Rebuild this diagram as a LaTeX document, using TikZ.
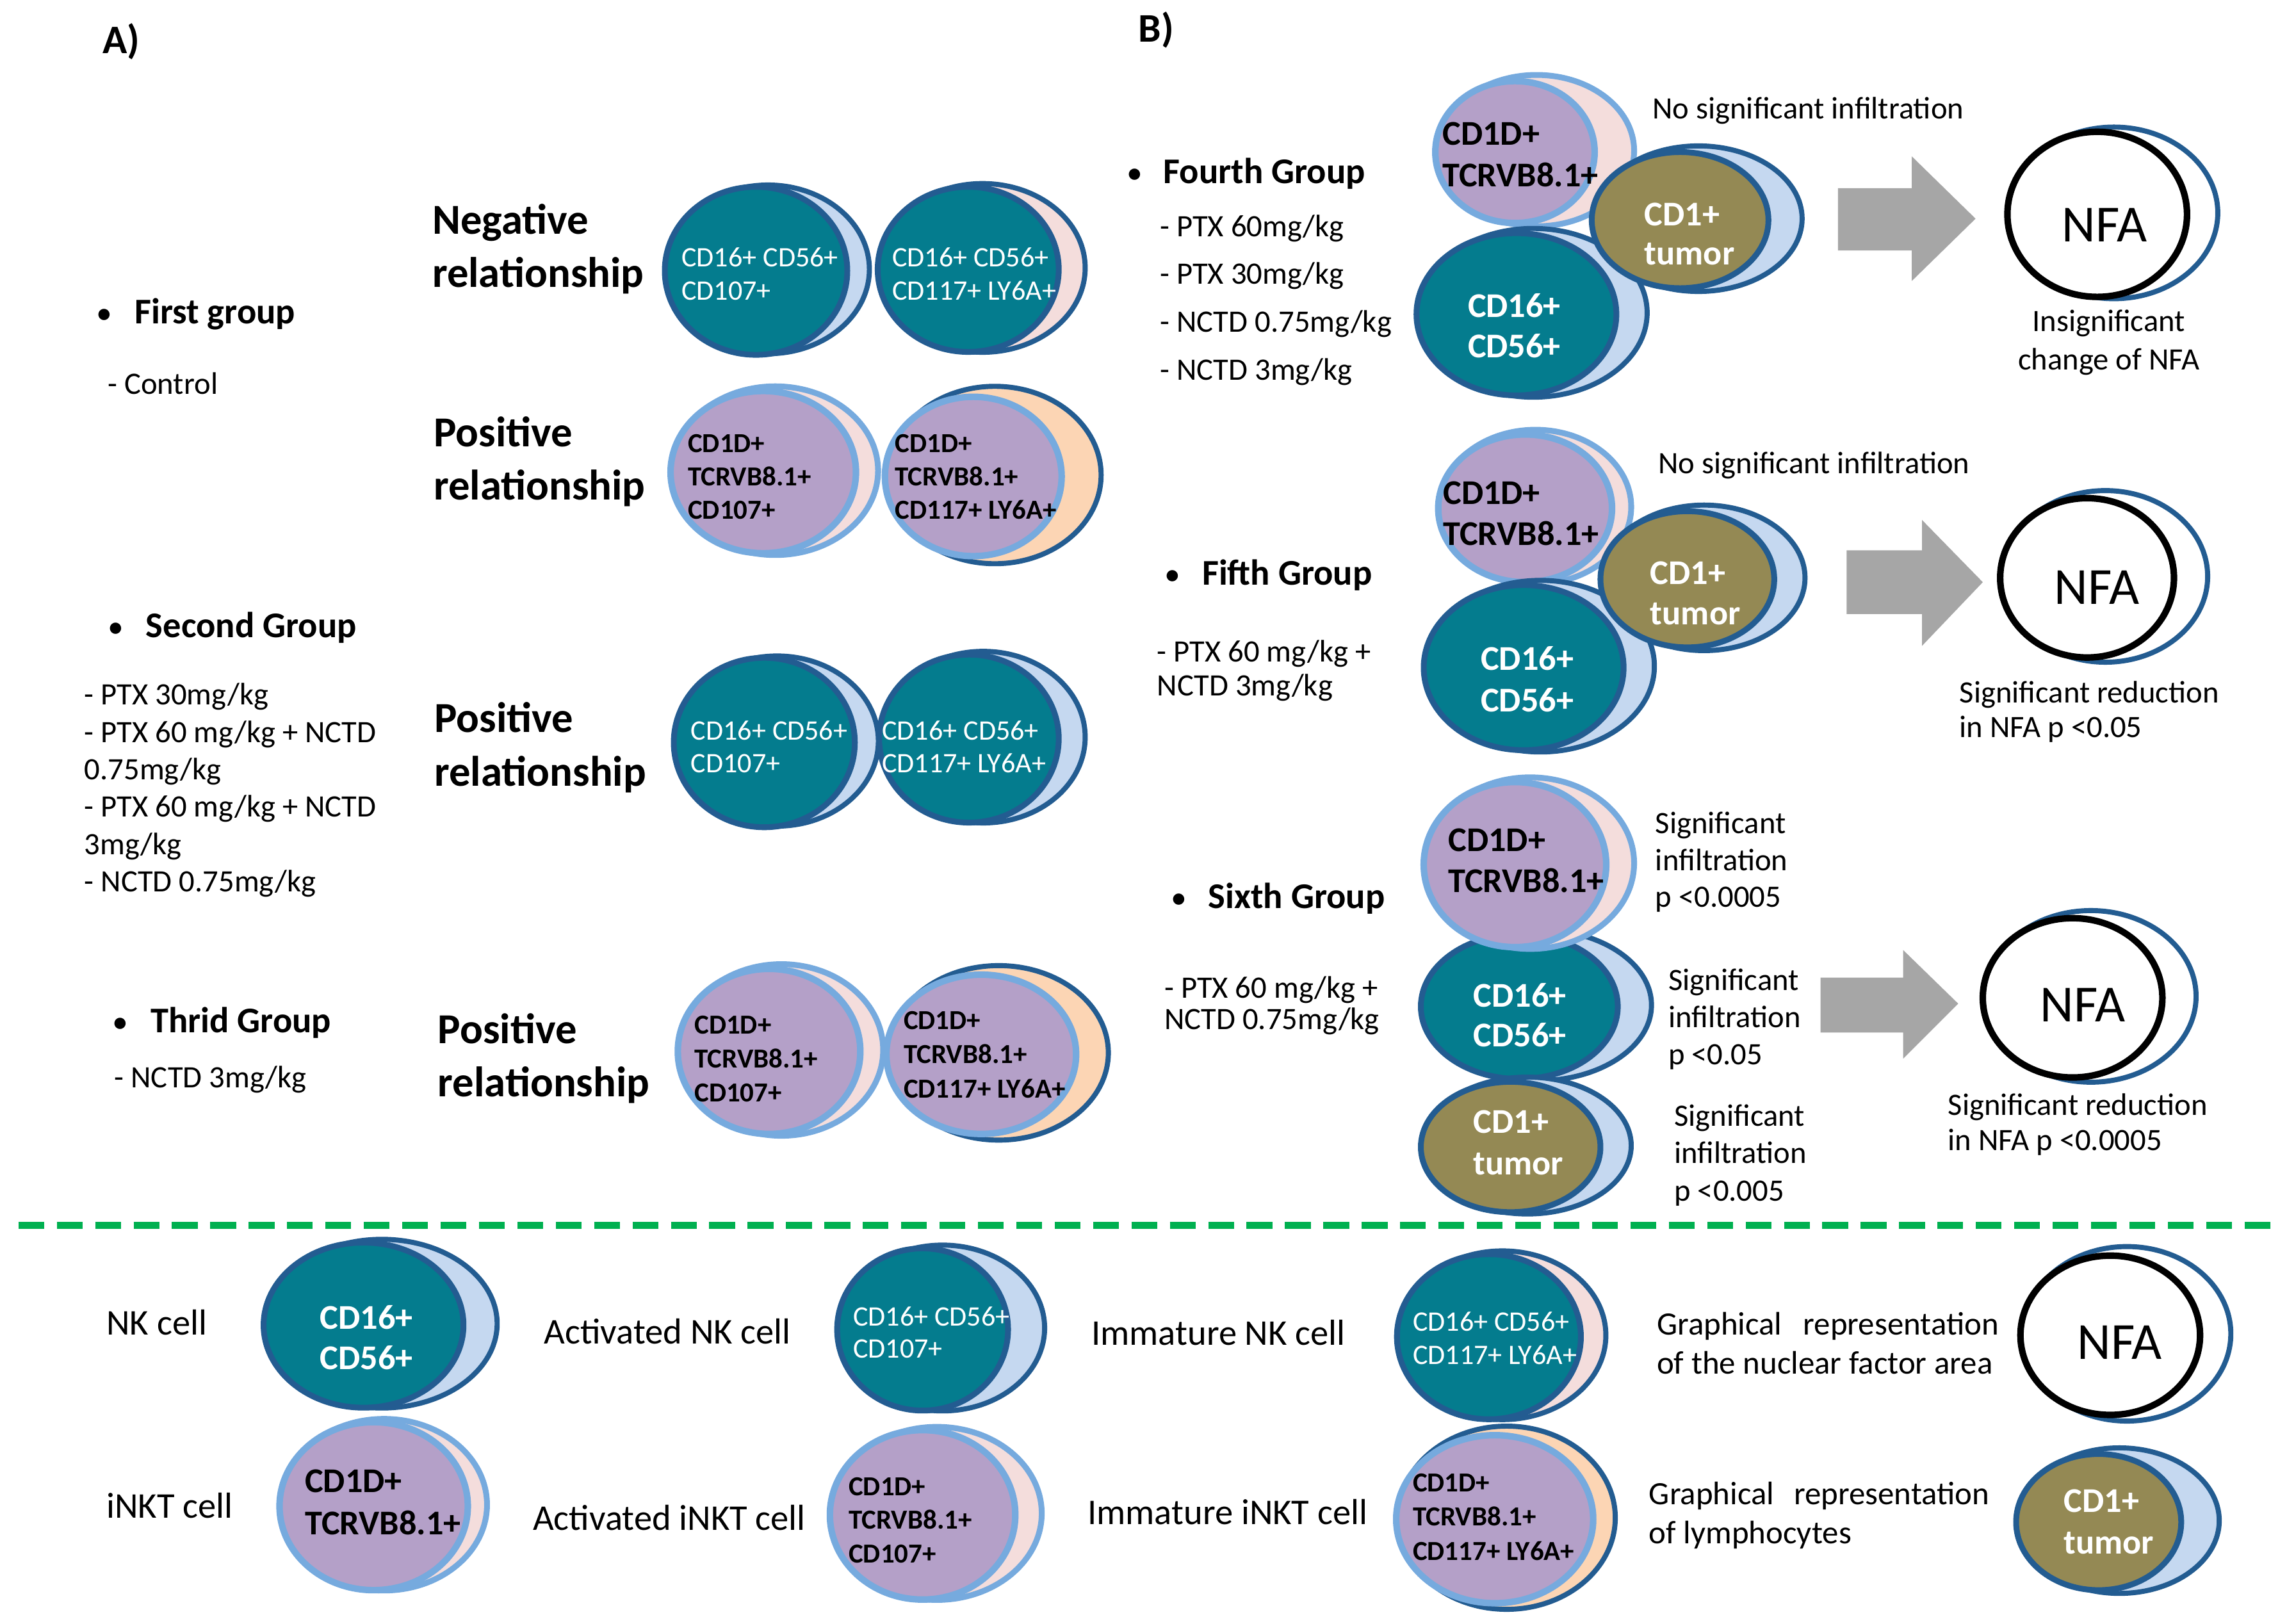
\documentclass[tikz,border=0pt]{standalone}
\usepackage{fontspec}
\setmainfont{Carlito}
\usetikzlibrary{shapes.geometric}
\definecolor{cteal}{RGB}{4,124,142}
\definecolor{cdblue}{RGB}{35,92,145}
\definecolor{cring}{RGB}{118,170,222}
\definecolor{cpurple}{RGB}{180,160,200}
\definecolor{clblue}{RGB}{197,216,240}
\definecolor{cpink}{RGB}{244,221,220}
\definecolor{cpeach}{RGB}{252,213,180}
\definecolor{colive}{RGB}{148,137,84}
\definecolor{cgray}{RGB}{166,166,166}
\definecolor{cgreen}{RGB}{0,176,80}
% #1 name, #2 cx, #3 cy, #4 rx, #5 ry, #6 extra right of outer, #7 extra y radius of outer, #8 type
\newcommand{\cellshape}[8]{%
  \path[#8O] ({#2+0.55*#6},{#3-1}) ellipse [x radius={(#4+0.45*#6-1.75)*1pt}, y radius={(#5+#7-1.75)*1pt}];
  \node[#8I, ellipse, inner sep=0pt, minimum width={(2*#4-4)*1pt}, minimum height={(2*#5-4)*1pt}] (#1) at (#2,#3) {};
}
\newcommand{\MLL}[3]{\fontsize{#1}{#2}\selectfont\begin{tabular}[t]{@{}l@{}}#3\end{tabular}}
\newcommand{\MLC}[3]{\fontsize{#1}{#2}\selectfont\begin{tabular}[t]{@{}c@{}}#3\end{tabular}}
\begin{document}
\begin{tikzpicture}[x=1pt,y=-1pt,
  tx/.style={anchor=base west, inner sep=0pt, outer sep=0pt},
  txc/.style={anchor=base, inner sep=0pt, outer sep=0pt},
  hd/.style={font=\bfseries\fontsize{28}{34}\selectfont},
  gh/.style={font=\bfseries\fontsize{25}{30}\selectfont},
  bul/.style={font=\fontsize{22}{26}\selectfont},
  rg/.style={font=\fontsize{21.5}{26}\selectfont},
  lg/.style={font=\fontsize{25}{30}\selectfont},
  nfatxt/.style={anchor=base, inner sep=0pt, font=\fontsize{36}{40}\selectfont},
  nkI/.style={fill=cteal, draw=cdblue, line width=4pt},
  nkO/.style={fill=clblue, draw=cdblue, line width=3.5pt},
  nkmI/.style={fill=cteal, draw=cdblue, line width=4pt},
  nkmO/.style={fill=cpink, draw=cdblue, line width=3.5pt},
  inI/.style={fill=cpurple, draw=cring, line width=4.5pt},
  inO/.style={fill=cpink, draw=cring, line width=4pt},
  inmI/.style={fill=cpurple, draw=cring, line width=4.5pt},
  inmO/.style={fill=cpeach, draw=cdblue, line width=3.5pt},
  tuI/.style={fill=colive, draw=cdblue, line width=4pt},
  tuO/.style={fill=clblue, draw=cdblue, line width=3.5pt},
  nfI/.style={fill=white, draw=black, line width=4.5pt},
  nfO/.style={fill=white, draw=cdblue, line width=3.5pt},
  bigarrow/.style={fill=cgray}
]
\useasboundingbox (0,0) rectangle (1568,1121);
\fill[white] (0,0) rectangle (1568,1121);

% ---------- headings ----------
\node[tx,hd] (hA) at (71,37) {A)};
\node[tx,hd] (hB) at (786,29) {B)};

% ---------- part A left column ----------
\node[tx,bul] (b1) at (66.7,223.4) {•};
\node[tx,gh] (g1) at (93,223.4) {First group};
\node[tx,rg] (g1a) at (74.5,272) {- Control};

\node[tx,bul] (b2) at (74.5,440) {•};
\node[tx,gh] (g2) at (100.8,440) {Second Group};
\node[tx] (g2a) at (58.3,486.8) {\MLL{21.5}{25.8}{- PTX 30mg/kg\\- PTX 60 mg/kg + NCTD\\0.75mg/kg\\- PTX 60 mg/kg + NCTD\\3mg/kg\\- NCTD 0.75mg/kg}};

\node[tx,bul] (b3) at (77.5,712.8) {•};
\node[tx,gh] (g3) at (104,712.8) {Thrid Group};
\node[tx,rg] (g3a) at (79,750.9) {- NCTD 3mg/kg};

% relationship labels
\node[tx] (r1) at (298.5,161.4) {\bfseries\MLL{29.5}{36.8}{Negative\\relationship}};
\node[tx] (r2) at (299.4,308.3) {\bfseries\MLL{29.5}{36.8}{Positive\\relationship}};
\node[tx] (r3) at (300,505.8) {\bfseries\MLL{29.5}{36.8}{Positive\\relationship}};
\node[tx] (r4) at (302.4,720.4) {\bfseries\MLL{29.5}{36.8}{Positive\\relationship}};

% ---------- part A cells ----------
\cellshape{a1}{522}{187}{65}{60}{15}{0}{nk}
\cellshape{a2}{668.5}{186}{64.5}{59}{18}{1}{nkm}
\node[tx,text=white] (a1t) at (470.6,184.3) {\MLL{19.5}{23}{CD16+ CD56+\\CD107+}};
\node[tx,text=white] (a2t) at (616,184.3) {\MLL{19.5}{23}{CD16+ CD56+\\CD117+ LY6A+}};

\cellshape{a3}{527}{326}{66}{58}{15}{2}{in}
\cellshape{a4}{672}{329}{63}{57}{27}{6}{inm}
\node[tx] (a3t) at (475,312.6) {\bfseries\MLL{19}{23}{CD1D+\\TCRVB8.1+\\CD107+}};
\node[tx] (a4t) at (618,312.6) {\bfseries\MLL{19}{23}{CD1D+\\TCRVB8.1+\\CD117+ LY6A+}};

\cellshape{a5}{527.7}{512.7}{64.5}{60.5}{16}{0}{nk}
\cellshape{a6}{669}{510}{64}{60}{18}{1}{nk}
\node[tx,text=white] (a5t) at (477,511) {\MLL{19.5}{22.7}{CD16+ CD56+\\CD107+}};
\node[tx,text=white] (a6t) at (609,511) {\MLL{19.5}{22.7}{CD16+ CD56+\\CD117+ LY6A+}};

\cellshape{a7}{531}{726}{65}{59}{15.5}{2}{in}
\cellshape{a8}{677.5}{728}{67.5}{57}{22}{5}{inm}
\node[tx] (a7t) at (479.5,714) {\bfseries\MLL{19}{23.3}{CD1D+\\TCRVB8.1+\\CD107+}};
\node[tx] (a8t) at (624,710.6) {\bfseries\MLL{19}{23.7}{CD1D+\\TCRVB8.1+\\CD117+ LY6A+}};

% ---------- part B: fourth group ----------
\node[tx,bul] (b4) at (778,126.8) {•};
\node[tx,gh] (g4) at (803.3,126.8) {Fourth Group};
\node[tx] (g4a) at (801,163.3) {\MLL{21.5}{33}{- PTX 60mg/kg\\- PTX 30mg/kg\\- NCTD 0.75mg/kg\\- NCTD 3mg/kg}};

\cellshape{f4i}{1046}{105}{57}{51}{27}{3}{in}
\cellshape{f4n}{1047}{217}{71}{58}{21}{2}{nk}
\cellshape{f4t}{1160}{152}{63}{49}{23}{3}{tu}
\node[tx] (f4it) at (996,100) {\bfseries\MLL{24}{28.7}{CD1D+\\TCRVB8.1+}};
\node[tx,text=white] (f4tt) at (1135.4,156) {\bfseries\MLL{24}{27}{CD1+\\tumor}};
\node[tx,text=white] (f4nt) at (1013.5,218.9) {\bfseries\MLL{24}{28}{CD16+\\CD56+}};
\node[tx,rg] (f4l) at (1141,82.2) {No significant infiltration};
\fill[bigarrow] (1269,130) -- (1320,130) -- (1320,108) -- (1364,151) -- (1320,194) -- (1320,173) -- (1269,173) -- cycle;
\cellshape{f4f}{1448}{148}{64}{59}{21}{2}{nf}
\node[nfatxt] (f4ft) at (1453,166.8) {NFA};
\node[txc] (f4r) at (1456,229) {\MLC{21.5}{26.2}{Insignificant\\change of NFA}};

% ---------- part B: fifth group ----------
\node[tx,bul] (b5) at (804,404) {•};
\node[tx,gh] (g5) at (830,404) {Fifth Group};
\node[tx] (g5a) at (799,456.8) {\MLL{21.5}{23.7}{- PTX 60 mg/kg +\\NCTD 3mg/kg}};

\cellshape{f5i}{1053}{351}{62}{53}{13}{2}{in}
\cellshape{f5n}{1052}{461}{71}{59}{21}{2}{nk}
\cellshape{f5t}{1165}{400}{62}{49}{21}{3}{tu}
\node[tx] (f5it) at (996.4,348.4) {\bfseries\MLL{24}{28}{CD1D+\\TCRVB8.1+}};
\node[tx,text=white] (f5tt) at (1139.5,403.4) {\bfseries\MLL{24}{28}{CD1+\\tumor}};
\node[tx,text=white] (f5nt) at (1022.4,462.7) {\bfseries\MLL{24}{28.8}{CD16+\\CD56+}};
\node[tx,rg] (f5l) at (1145,327.2) {No significant infiltration};
\fill[bigarrow] (1275,380) -- (1327,380) -- (1327,359) -- (1369,402) -- (1327,446) -- (1327,424) -- (1275,424) -- cycle;
\cellshape{f5f}{1441}{399}{62}{57}{23}{4}{nf}
\node[nfatxt] (f5ft) at (1447.7,417) {NFA};
\node[tx] (f5r) at (1353,485.5) {\MLL{21.5}{23.8}{Significant reduction\\in NFA p <0.05}};

% ---------- part B: sixth group ----------
\node[tx,bul] (b6) at (808.5,627.2) {•};
\node[tx,gh] (g6) at (834.3,627.2) {Sixth Group};
\node[tx] (g6a) at (804,689) {\MLL{21.5}{22}{- PTX 60 mg/kg +\\NCTD 0.75mg/kg}};

\cellshape{f6n}{1049}{695}{70}{52}{23}{2}{nk}
\cellshape{f6t}{1043}{792}{64}{47}{21}{2}{tu}
\cellshape{f6i}{1046}{597}{65}{59}{19}{2}{in}
\node[tx] (f6it) at (1000,587.8) {\bfseries\MLL{24}{28.4}{CD1D+\\TCRVB8.1+}};
\node[tx,text=white] (f6nt) at (1017.3,695.3) {\bfseries\MLL{24}{27.4}{CD16+\\CD56+}};
\node[tx,text=white] (f6tt) at (1017.3,782.6) {\bfseries\MLL{24}{28.4}{CD1+\\tumor}};
\node[tx] (f6l1) at (1143,575.6) {\MLL{21.5}{25.4}{Significant\\infiltration\\p <0.0005}};
\node[tx] (f6l2) at (1152,684) {\MLL{21.5}{25.5}{Significant\\infiltration\\p <0.05}};
\node[tx] (f6l3) at (1156,777.4) {\MLL{21.5}{26}{Significant\\infiltration\\p <0.005}};
\fill[bigarrow] (1257,675) -- (1314,675) -- (1314,656) -- (1352,693) -- (1314,731) -- (1314,713) -- (1257,713) -- cycle;
\cellshape{f6f}{1431}{689}{64}{57}{23}{4}{nf}
\node[nfatxt] (f6ft) at (1438,705.4) {NFA};
\node[tx] (f6r) at (1345,770) {\MLL{21.5}{24.6}{Significant reduction\\in NFA p <0.0005}};

% ---------- separator ----------
\coordinate (sepL) at (12.7,846);
\coordinate (sepR) at (1568,846);
\draw[cgreen, line width=4.8pt, dash pattern=on 17.8pt off 8.7pt] (sepL) -- (sepR);

% ---------- legend ----------
\node[tx,lg] (l1) at (73.6,921.6) {NK cell};
\cellshape{c1}{251}{915}{71}{59}{23}{1}{nk}
\node[tx,text=white] (c1t) at (221,917.6) {\bfseries\MLL{24}{28}{CD16+\\CD56+}};

\node[tx,lg] (l2) at (375.7,928) {Activated NK cell};
\cellshape{c2}{637}{918}{61}{58}{25}{1}{nk}
\node[tx,text=white] (c2t) at (589,915.6) {\MLL{19.5}{22.2}{CD16+ CD56+\\CD107+}};

\node[tx,lg] (l3) at (753.6,928.8) {Immature NK cell};
\cellshape{c3}{1028}{923}{65.5}{59}{17}{1}{nkm}
\node[tx,text=white] (c3t) at (975.5,919) {\MLL{19.5}{23}{CD16+ CD56+\\CD117+ LY6A+}};

\node[tx] (l4) at (1144,921.7) {\fontsize{22.5}{27}\selectfont\begin{tabular}[t]{@{}l@{}}\makebox[236pt][s]{Graphical representation}\\of the nuclear factor area\end{tabular}};
\cellshape{c4}{1457}{922}{64}{57}{21}{5}{nf}
\node[nfatxt] (c4t) at (1463.5,938.7) {NFA};

\node[tx,lg] (l5) at (73.6,1048) {iNKT cell};
\cellshape{c5}{258}{1040}{67}{60}{13}{1}{in}
\node[tx] (c5t) at (210.6,1030.6) {\bfseries\MLL{24}{29}{CD1D+\\TCRVB8.1+}};

\node[tx,lg] (l6) at (368,1056.7) {Activated iNKT cell};
\cellshape{c6}{637}{1046}{66}{60.5}{18}{1}{in}
\node[tx] (c6t) at (586,1032.6) {\bfseries\MLL{19}{23.2}{CD1D+\\TCRVB8.1+\\CD107+}};

\node[tx,lg] (l7) at (751,1052.4) {Immature iNKT cell};
\cellshape{c7}{1032}{1049}{70}{60}{15}{5}{inm}
\node[tx] (c7t) at (975.5,1030) {\bfseries\MLL{19}{23.7}{CD1D+\\TCRVB8.1+\\CD117+ LY6A+}};

\node[tx] (l8) at (1138.6,1039) {\fontsize{22.5}{26.8}\selectfont\begin{tabular}[t]{@{}l@{}}\makebox[235pt][s]{Graphical representation}\\of lymphocytes\end{tabular}};
\cellshape{c8}{1449}{1051}{59}{49}{26}{3}{tu}
\node[tx,text=white] (c8t) at (1425,1044.3) {\bfseries\MLL{24}{28.7}{CD1+\\tumor}};
\end{tikzpicture}
\end{document}
